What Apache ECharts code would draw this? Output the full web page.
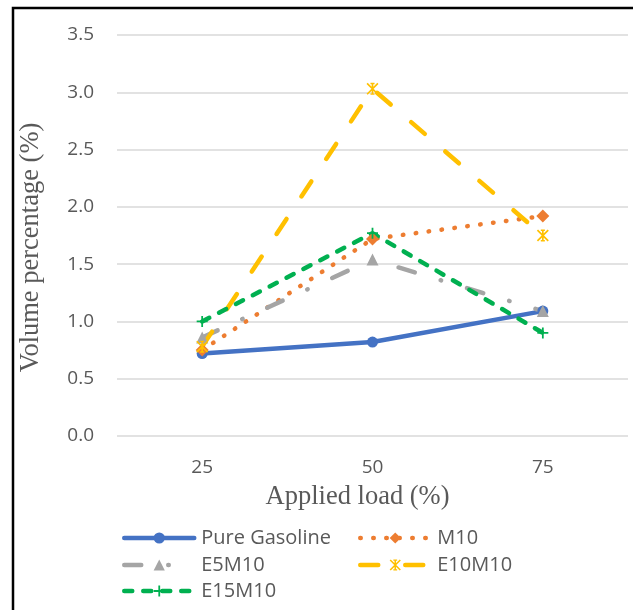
<!DOCTYPE html>
<html><head><meta charset="utf-8">
<script src="https://cdn.jsdelivr.net/npm/echarts@6/dist/echarts.min.js"></script>
<style>html,body{margin:0;padding:0;background:#fff}#c{width:633px;height:610px}</style>
</head><body><div id="c"></div>
<script>
const categories = ['25', '50', '75'];
const seriesNames = ['Pure Gasoline', 'M10', 'E5M10', 'E10M10', 'E15M10'];
const pureGasoline = [0.72, 0.82, 1.09];
const m10 = [0.75, 1.72, 1.92];
const e5m10 = [0.86, 1.54, 1.09];
const e10m10 = [0.78, 3.03, 1.75];
const e15m10 = [1.00, 1.77, 0.90];
const yTicks = [0, 0.5, 1.0, 1.5, 2.0, 2.5, 3.0, 3.5];

const plusPath = 'path://M4.2,0L5.8,0L5.8,4.2L10,4.2L10,5.8L5.8,5.8L5.8,10L4.2,10L4.2,5.8L0,5.8L0,4.2L4.2,4.2Z';
const starPath = 'path://M4.3,0L5.7,0L5.7,10L4.3,10Z M1,0L10,9L9,10L0,1Z M9,0L10,1L1,10L0,9Z M3.3,0L6.7,0L6.7,1.2L3.3,1.2Z M3.3,8.8L6.7,8.8L6.7,10L3.3,10Z';

const chart = echarts.init(document.getElementById('c'), null, {renderer: 'canvas'});
const tickFont = {fontFamily: 'Open Sans', fontSize: 19, color: '#595959'};
const titleFontSize = 26.5;

const colors = ['#4472C4', '#ED7D31', '#A5A5A5', '#FFC000', '#00B050'];
const dashes = ['solid', [0.5, 12.5], [17, 27, 0.5, 27], [18, 27], [8, 11]];
const symbols = ['circle', 'diamond', 'triangle', starPath, plusPath];
const sizes = [11, 13, 12, 12, 11];
const values = [pureGasoline, m10, e5m10, e10m10, e15m10];

const legendPos = [
  [122, 528], [358, 528], [122, 555], [358, 555], [122, 581]
];

chart.setOption({
  animation: false,
  grid: {left: 117, right: 5, top: 35, bottom: 174, containLabel: false},
  xAxis: {
    type: 'category', data: categories, boundaryGap: true,
    axisLine: {show: false}, axisTick: {show: false},
    axisLabel: Object.assign({margin: 22}, tickFont),
    name: 'Applied load (%)', nameLocation: 'middle', nameGap: 48,
    nameTextStyle: {fontFamily: 'Liberation Serif', fontSize: titleFontSize, color: '#595959', padding: [0, 30, 0, 0]}
  },
  yAxis: {
    type: 'value', min: yTicks[0], max: yTicks[yTicks.length - 1], interval: 0.5,
    axisLine: {show: false}, axisTick: {show: false},
    axisLabel: Object.assign({margin: 23, formatter: v => v.toFixed(1)}, tickFont),
    splitLine: {lineStyle: {color: '#d9d9d9', width: 1.5}},
    name: 'Volume percentage (%)', nameLocation: 'middle', nameGap: 72, nameRotate: 90,
    nameTextStyle: {fontFamily: 'Liberation Serif', fontSize: titleFontSize, color: '#595959', padding: [0, 24, 0, 0]}
  },
  legend: seriesNames.map((n, i) => ({
    data: [n], left: legendPos[i][0], top: legendPos[i][1], padding: 0,
    itemWidth: 70, itemHeight: 14, itemGap: 0,
    lineStyle: {width: 4.5, type: dashes[i], cap: 'round', color: colors[i]},
    textStyle: {fontFamily: 'Open Sans', fontSize: 20, color: '#595959', padding: [0, 0, 0, 2]}
  })),
  graphic: [{
    type: 'rect', shape: {x: 13, y: 8, width: 800, height: 800},
    style: {fill: null, stroke: '#000', lineWidth: 2.5}, z: 100, silent: true
  }],
  series: seriesNames.map((n, i) => ({
    name: n, type: 'line', data: values[i],
    symbol: symbols[i], symbolSize: sizes[i],
    itemStyle: {color: colors[i]},
    lineStyle: {color: colors[i], width: 4.5, type: dashes[i], cap: 'round', join: 'round'},
    emphasis: {disabled: true}
  }))
});
</script></body></html>
